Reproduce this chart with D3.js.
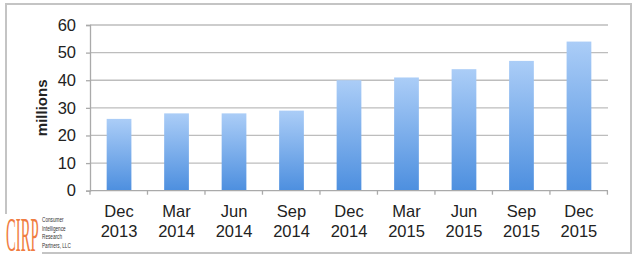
<!DOCTYPE html>
<html>
<head>
<meta charset="utf-8">
<title>CIRP millions</title>
<script src="https://cdn.jsdelivr.net/npm/d3@7"></script>
<style>
	body { margin: 0; background: #fff; }
	svg text { font-family: "Liberation Sans", Arial, sans-serif; fill: #222; }
</style>
</head>
<body>
<div id="chart"></div>
<script>
var months = ["Dec", "Mar", "Jun", "Sep", "Dec", "Mar", "Jun", "Sep", "Dec"];
var years = ["2013", "2014", "2014", "2014", "2014", "2015", "2015", "2015", "2015"];
var values = [26, 28, 28, 29, 40, 41, 44, 47, 54];
var yTicks = [0, 10, 20, 30, 40, 50, 60];

var width = 640, height = 271;
var plotLeft = 90, plotRight = 608, plotTop = 25, plotBottom = 190.7;

var svg = d3.select("#chart").append("svg")
	.attr("width", width).attr("height", height);

// outer frame
svg.append("rect")
	.attr("x", 6).attr("y", 4).attr("width", 625).attr("height", 249)
	.attr("fill", "none").attr("stroke", "#c4c4c4").attr("stroke-width", 2);

var grad = svg.append("defs").append("linearGradient")
	.attr("id", "barGrad").attr("x1", 0).attr("y1", 0).attr("x2", 0).attr("y2", 1);
grad.append("stop").attr("offset", "0%").attr("stop-color", "#abcdf7");
grad.append("stop").attr("offset", "100%").attr("stop-color", "#4d8fdf");

var keys = d3.range(values.length);
var x = d3.scaleBand().domain(keys).range([plotLeft, plotRight]).paddingInner(0.57).paddingOuter(0.29);
var y = d3.scaleLinear().domain([0, 60]).range([plotBottom, plotTop]);

// gridlines
svg.append("g").selectAll("line").data(yTicks.slice(1)).join("line")
	.attr("x1", plotLeft).attr("x2", plotRight)
	.attr("y1", function(d) { return y(d); }).attr("y2", function(d) { return y(d); })
	.attr("stroke", "#bdbdbd").attr("stroke-width", 1.3);

// y axis
var yAxis = svg.append("g").attr("transform", "translate(" + plotLeft + ",0)")
	.call(d3.axisLeft(y).tickValues(yTicks).tickSize(4).tickPadding(10));
yAxis.select(".domain").attr("stroke", "#aaa").attr("stroke-width", 1.3);
yAxis.selectAll(".tick line").attr("stroke", "#aaa").attr("stroke-width", 1.3);
yAxis.selectAll("text").style("font-size", "16.5px").attr("fill", "#222");

// bars
svg.append("g").selectAll("rect").data(values).join("rect")
	.attr("x", function(d, i) { return x(i); })
	.attr("y", function(d) { return y(d); })
	.attr("width", x.bandwidth())
	.attr("height", function(d) { return y(0) - y(d); })
	.attr("fill", "url(#barGrad)");

// x axis line with ticks between categories
var step = x.step();
svg.append("line").attr("x1", plotLeft).attr("x2", plotRight).attr("y1", y(0)).attr("y2", y(0))
	.attr("stroke", "#aaa").attr("stroke-width", 1.3);
svg.append("g").selectAll("line").data(d3.range(values.length + 1)).join("line")
	.attr("x1", function(d) { return plotLeft + d * step; })
	.attr("x2", function(d) { return plotLeft + d * step; })
	.attr("y1", y(0)).attr("y2", y(0) + 4)
	.attr("stroke", "#aaa").attr("stroke-width", 1.3);

// category labels
var lab = svg.append("g").selectAll("text").data(keys).join("text")
	.attr("text-anchor", "middle")
	.style("font-size", "16.5px");
lab.append("tspan")
	.attr("x", function(i) { return x(i) + x.bandwidth() / 2; })
	.attr("y", 217)
	.text(function(i) { return months[i]; });
lab.append("tspan")
	.attr("x", function(i) { return x(i) + x.bandwidth() / 2; })
	.attr("y", 237)
	.text(function(i) { return years[i]; });

// axis title
svg.append("text")
	.attr("transform", "translate(47," + ((plotTop + plotBottom) / 2) + ") rotate(-90)")
	.attr("text-anchor", "middle")
	.style("font-size", "15px").style("font-weight", "bold")
	.text("millions");

// logo
svg.append("rect").attr("x", 0).attr("y", 214).attr("width", 72).attr("height", 45).attr("fill", "#fff");
svg.append("text")
	.attr("transform", "translate(6,251) scale(0.32,1.05)")
	.style("font-size", "46px").style("fill", "#f07d42")
	.style("font-family", "'Liberation Serif', serif")
	.text("CIRP");
var logoLines = ["Consumer", "Intelligence", "Research", "Partners, LLC"];
svg.append("g").selectAll("text").data(logoLines).join("text")
	.attr("transform", function(d, i) { return "translate(42," + (222 + i * 8.5) + ") scale(0.72,1)"; })
	.style("font-size", "6.5px").style("fill", "#333")
	.text(function(d) { return d; });
svg.append("line").attr("x1", 42).attr("x2", 72).attr("y1", 253).attr("y2", 253)
	.attr("stroke", "#c4c4c4").attr("stroke-width", 2);
</script>
</body>
</html>
